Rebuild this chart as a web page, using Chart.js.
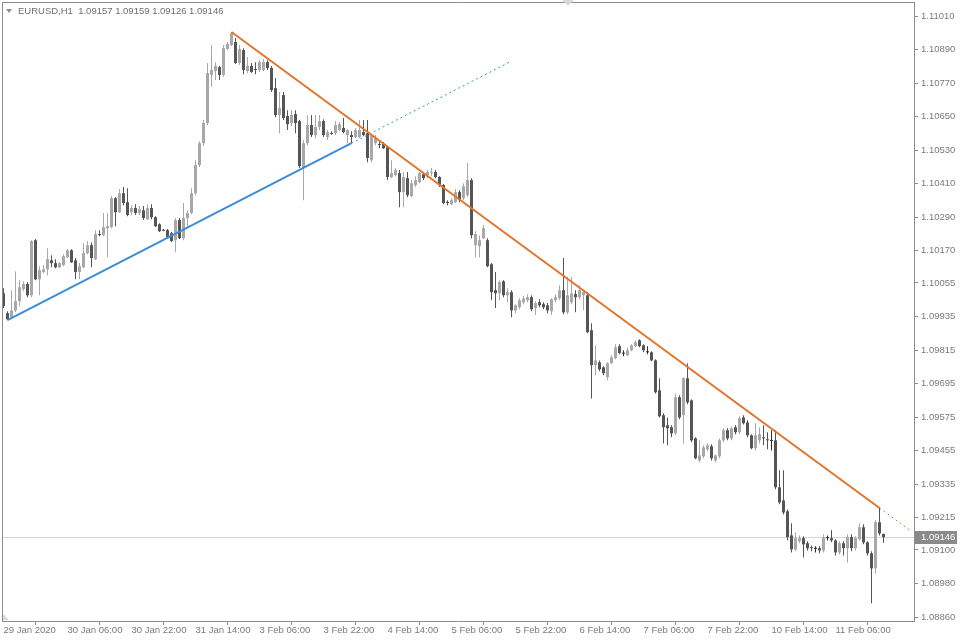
<!DOCTYPE html>
<html>
<head>
<meta charset="utf-8">
<title>EURUSD,H1</title>
<script src="https://cdn.jsdelivr.net/npm/chart.js@4.4.0/dist/chart.umd.min.js"></script>
<style>
    html, body { margin: 0; padding: 0; background: #ffffff; }
    #wrap { width: 960px; height: 640px; position: relative; }
</style>
</head>
<body>
<div id="wrap"><canvas id="chart" width="960" height="640"></canvas></div>
<script>
// header / last bar
var symbolTitle = "EURUSD,H1";
var lastBar = [1.09157, 1.09159, 1.09126, 1.09146];

// time axis: one candle per hour, a label every 16 candles
var timeTickIndex = [0, 16, 32, 48, 64, 80, 96, 112, 128, 144, 160, 176, 192, 208];
var timeLabels = ["29 Jan 2020", "30 Jan 06:00", "30 Jan 22:00", "31 Jan 14:00", "3 Feb 06:00", "3 Feb 22:00",
    "4 Feb 14:00", "5 Feb 06:00", "5 Feb 22:00", "6 Feb 14:00", "7 Feb 06:00", "7 Feb 22:00", "10 Feb 14:00", "11 Feb 06:00"];

// price axis labels
var priceTicks = [1.11010, 1.10890, 1.10770, 1.10650, 1.10530, 1.10410, 1.10290, 1.10170, 1.10055, 1.09935,
    1.09815, 1.09695, 1.09575, 1.09455, 1.09335, 1.09215, 1.09100, 1.08980, 1.08860];

// candles (H1)
var opens = [
    1.10018,1.09947,1.09932,1.09957,1.09990,1.10033,1.10051,1.10011,1.10208,1.10068,
    1.10094,1.10104,1.10136,1.10126,1.10111,1.10119,1.10147,1.10172,1.10136,1.10094,
    1.10111,1.10162,1.10190,1.10140,1.10230,1.10226,1.10251,1.10255,1.10358,1.10308,
    1.10376,1.10344,1.10308,1.10323,1.10305,1.10315,1.10283,1.10323,1.10290,1.10265,
    1.10244,1.10244,1.10233,1.10208,1.10280,1.10215,1.10287,1.10305,1.10376,1.10477,
    1.10555,1.10627,1.10799,1.10813,1.10827,1.10799,1.10892,1.10906,1.10917,1.10842,
    1.10888,1.10813,1.10831,1.10820,1.10817,1.10817,1.10845,1.10824,1.10752,1.10656,
    1.10727,1.10652,1.10627,1.10659,1.10634,1.10466,1.10555,1.10620,1.10584,1.10613,
    1.10634,1.10577,1.10591,1.10591,1.10602,1.10609,1.10584,1.10584,1.10577,1.10577,
    1.10595,1.10591,1.10494,1.10555,1.10552,1.10552,1.10541,1.10434,1.10441,1.10448,
    1.10380,1.10430,1.10366,1.10405,1.10416,1.10444,1.10441,1.10448,1.10452,1.10434,
    1.10405,1.10344,1.10337,1.10344,1.10380,1.10358,1.10369,1.10423,1.10190,1.10187,
    1.10215,1.10208,1.10122,1.10029,1.10018,1.10061,1.10011,1.10022,1.09957,1.09968,
    1.09986,1.09993,1.10004,1.09965,1.09986,1.09979,1.09975,1.09954,1.09993,1.10000,
    1.10029,1.09950,1.09986,1.10015,1.10004,1.10011,1.10011,1.09886,1.09761,1.09771,
    1.09753,1.09718,1.09768,1.09786,1.09829,1.09804,1.09796,1.09814,1.09829,1.09850,
    1.09832,1.09807,1.09807,1.09778,1.09671,1.09582,1.09546,1.09539,1.09517,1.09646,
    1.09582,1.09714,1.09635,1.09499,1.09420,1.09435,1.09460,1.09471,1.09420,1.09435,
    1.09492,1.09528,1.09499,1.09539,1.09521,1.09574,1.09556,1.09510,1.09464,1.09492,
    1.09501,1.09494,1.09492,1.09492,1.09324,1.09277,1.09238,1.09152,1.09102,1.09131,
    1.09142,1.09124,1.09108,1.09106,1.09106,1.09098,1.09142,1.09142,1.09134,1.09091,
    1.09124,1.09106,1.09146,1.09106,1.09138,1.09181,1.09127,1.09088,1.09034,1.09199,1.09157
];
var highs = [
    1.10036,1.09954,1.10029,1.10097,1.10065,1.10061,1.10058,1.10208,1.10212,1.10115,
    1.10119,1.10179,1.10154,1.10140,1.10129,1.10158,1.10176,1.10176,1.10144,1.10126,
    1.10197,1.10205,1.10201,1.10244,1.10244,1.10305,1.10305,1.10366,1.10362,1.10391,
    1.10398,1.10394,1.10333,1.10337,1.10330,1.10330,1.10337,1.10337,1.10294,1.10269,
    1.10248,1.10248,1.10237,1.10287,1.10287,1.10341,1.10315,1.10394,1.10494,1.10562,
    1.10638,1.10842,1.10906,1.10845,1.10831,1.10906,1.10917,1.10953,1.10931,1.10906,
    1.10895,1.10863,1.10842,1.10845,1.10852,1.10856,1.10852,1.10831,1.10788,1.10738,
    1.10738,1.10673,1.10673,1.10673,1.10638,1.10566,1.10656,1.10656,1.10656,1.10656,
    1.10641,1.10602,1.10598,1.10634,1.10630,1.10645,1.10605,1.10598,1.10609,1.10638,
    1.10638,1.10638,1.10584,1.10584,1.10566,1.10559,1.10545,1.10494,1.10466,1.10459,
    1.10452,1.10452,1.10423,1.10437,1.10452,1.10452,1.10459,1.10466,1.10459,1.10437,
    1.10409,1.10351,1.10358,1.10391,1.10387,1.10412,1.10484,1.10430,1.10240,1.10226,
    1.10262,1.10215,1.10126,1.10094,1.10065,1.10065,1.10036,1.10029,1.09979,1.10000,
    1.10008,1.10015,1.10011,1.09990,1.09997,1.09986,1.09983,1.10000,1.10015,1.10047,
    1.10144,1.10076,1.10076,1.10029,1.10047,1.10029,1.10022,1.09911,1.09832,1.09778,
    1.09757,1.09771,1.09796,1.09836,1.09836,1.09814,1.09825,1.09836,1.09850,1.09854,
    1.09836,1.09829,1.09811,1.09782,1.09714,1.09589,1.09574,1.09546,1.09660,1.09653,
    1.09718,1.09768,1.09639,1.09503,1.09492,1.09474,1.09481,1.09478,1.09442,1.09499,
    1.09535,1.09535,1.09542,1.09546,1.09578,1.09582,1.09564,1.09514,1.09553,1.09539,
    1.09546,1.09521,1.09528,1.09528,1.09385,1.09385,1.09245,1.09195,1.09163,1.09152,
    1.09149,1.09131,1.09116,1.09113,1.09113,1.09156,1.09152,1.09170,1.09138,1.09131,
    1.09131,1.09156,1.09156,1.09149,1.09195,1.09192,1.09131,1.09095,1.09206,1.09252,1.09159
];
var lows = [
    1.09965,1.09922,1.09929,1.09950,1.09972,1.10026,1.10004,1.10004,1.10065,1.10011,
    1.10090,1.10083,1.10111,1.10108,1.10108,1.10115,1.10144,1.10126,1.10068,1.10068,
    1.10108,1.10158,1.10111,1.10136,1.10222,1.10222,1.10147,1.10251,1.10258,1.10305,
    1.10333,1.10294,1.10298,1.10298,1.10298,1.10280,1.10280,1.10283,1.10255,1.10237,
    1.10240,1.10212,1.10201,1.10165,1.10212,1.10208,1.10251,1.10301,1.10369,1.10470,
    1.10545,1.10620,1.10756,1.10781,1.10781,1.10792,1.10888,1.10903,1.10838,1.10835,
    1.10802,1.10806,1.10806,1.10802,1.10810,1.10813,1.10817,1.10738,1.10648,1.10591,
    1.10638,1.10602,1.10616,1.10591,1.10466,1.10351,1.10548,1.10577,1.10573,1.10602,
    1.10577,1.10566,1.10584,1.10584,1.10598,1.10591,1.10555,1.10555,1.10573,1.10573,
    1.10580,1.10487,1.10487,1.10548,1.10537,1.10534,1.10423,1.10430,1.10437,1.10326,
    1.10326,1.10362,1.10362,1.10398,1.10412,1.10423,1.10430,1.10437,1.10430,1.10398,
    1.10337,1.10333,1.10333,1.10341,1.10344,1.10351,1.10362,1.10215,1.10147,1.10147,
    1.10212,1.10111,1.09993,1.09965,1.09993,1.10004,1.09986,1.09932,1.09947,1.09961,
    1.09979,1.09986,1.09954,1.09940,1.09968,1.09961,1.09947,1.09940,1.09986,1.09993,
    1.09943,1.09943,1.09979,1.09950,1.09997,1.09957,1.09875,1.09642,1.09725,1.09739,
    1.09725,1.09707,1.09764,1.09782,1.09800,1.09793,1.09793,1.09811,1.09825,1.09825,
    1.09807,1.09800,1.09775,1.09660,1.09574,1.09481,1.09474,1.09503,1.09510,1.09567,
    1.09481,1.09621,1.09485,1.09424,1.09413,1.09428,1.09453,1.09420,1.09413,1.09428,
    1.09485,1.09492,1.09492,1.09514,1.09514,1.09549,1.09503,1.09460,1.09456,1.09481,
    1.09474,1.09460,1.09456,1.09317,1.09263,1.09227,1.09135,1.09091,1.09095,1.09124,
    1.09073,1.09098,1.09095,1.09091,1.09088,1.09091,1.09134,1.09127,1.09080,1.09084,
    1.09080,1.09055,1.09095,1.09098,1.09134,1.09120,1.09080,1.08909,1.09016,1.09152,1.09126
];
var closes = [
    1.09972,1.09925,1.09957,1.09990,1.10040,1.10051,1.10011,1.10205,1.10068,1.10101,
    1.10104,1.10140,1.10126,1.10111,1.10126,1.10151,1.10172,1.10129,1.10094,1.10115,
    1.10162,1.10190,1.10144,1.10230,1.10226,1.10255,1.10258,1.10358,1.10308,1.10376,
    1.10341,1.10298,1.10323,1.10305,1.10319,1.10287,1.10323,1.10290,1.10258,1.10240,
    1.10242,1.10219,1.10205,1.10280,1.10215,1.10287,1.10305,1.10376,1.10477,1.10555,
    1.10627,1.10806,1.10817,1.10831,1.10799,1.10895,1.10910,1.10949,1.10842,1.10892,
    1.10817,1.10831,1.10810,1.10817,1.10845,1.10845,1.10824,1.10745,1.10656,1.10681,
    1.10645,1.10623,1.10656,1.10627,1.10473,1.10555,1.10620,1.10584,1.10613,1.10634,
    1.10584,1.10595,1.10588,1.10620,1.10623,1.10595,1.10602,1.10577,1.10602,1.10602,
    1.10584,1.10502,1.10584,1.10573,1.10548,1.10537,1.10434,1.10448,1.10459,1.10380,
    1.10434,1.10369,1.10412,1.10423,1.10448,1.10430,1.10452,1.10450,1.10434,1.10405,
    1.10341,1.10341,1.10351,1.10380,1.10351,1.10401,1.10423,1.10226,1.10230,1.10208,
    1.10251,1.10115,1.10022,1.10018,1.10058,1.10011,1.10022,1.09957,1.09975,1.09993,
    1.10000,1.10004,1.09961,1.09983,1.09975,1.09968,1.09957,1.09997,1.10004,1.10029,
    1.09950,1.10011,1.10018,1.10004,1.10029,1.10022,1.09879,1.09761,1.09778,1.09746,
    1.09732,1.09768,1.09789,1.09825,1.09804,1.09802,1.09814,1.09832,1.09843,1.09829,
    1.09814,1.09809,1.09778,1.09664,1.09578,1.09539,1.09535,1.09517,1.09646,1.09574,
    1.09714,1.09628,1.09492,1.09428,1.09438,1.09467,1.09474,1.09428,1.09438,1.09492,
    1.09528,1.09499,1.09535,1.09521,1.09571,1.09553,1.09510,1.09464,1.09510,1.09514,
    1.09499,1.09492,1.09490,1.09324,1.09270,1.09234,1.09146,1.09102,1.09142,1.09142,
    1.09120,1.09106,1.09106,1.09104,1.09098,1.09146,1.09144,1.09134,1.09091,1.09124,
    1.09106,1.09146,1.09106,1.09142,1.09181,1.09127,1.09088,1.09034,1.09199,1.09159,1.09146
];

// trend lines (bar index, price): solid part then dotted ray
var blueX = [1, 87, 126.5];
var blueY = [1.09922, 1.10555, 1.10845];
var orangeX = [57, 219, 227];
var orangeY = [1.10953, 1.09250, 1.09166];

var fontFamily = '"Liberation Sans", Arial, sans-serif';
var axisColor = "#8c8c8c";
var textColor = "#7a7a7a";
var bullColor = "#a8a8a8";
var bearColor = "#555555";
var dojiColor = "#303030";

function candleColor(i) {
    if (Math.abs(closes[i] - opens[i]) < 0.00002) return dojiColor;
    return closes[i] > opens[i] ? bullColor : bearColor;
}

var bodyData = [];
var wickData = [];
for (var i = 0; i < opens.length; i++) {
    bodyData.push({ x: i, y: [opens[i], closes[i]] });
    wickData.push({ x: i, y: [lows[i], highs[i]] });
}

function segment(xs, ys, a, b) {
    return [{ x: xs[a], y: ys[a] }, { x: xs[b], y: ys[b] }];
}

// no extra padding for the first/last tick labels, the frame sits at fixed pixels
function noLabelPadding(scale) {
    scale.paddingTop = 0;
    scale.paddingBottom = 0;
    scale.paddingLeft = 0;
    scale.paddingRight = 0;
}

var mt4Decor = {
    id: "mt4Decor",
    beforeDatasetsDraw: function (chart) {
        var ctx = chart.ctx, area = chart.chartArea;
        var py = Math.round(chart.scales.y.getPixelForValue(lastBar[3])) + 0.5;
        ctx.save();
        ctx.strokeStyle = "#d6d6d6";
        ctx.lineWidth = 1;
        ctx.beginPath();
        ctx.moveTo(area.left, py);
        ctx.lineTo(area.right, py);
        ctx.stroke();
        ctx.restore();
    },
    afterDraw: function (chart) {
        var ctx = chart.ctx, area = chart.chartArea;
        ctx.save();
        // frame (top + left, the axes draw right + bottom)
        ctx.strokeStyle = axisColor;
        ctx.lineWidth = 1;
        ctx.beginPath();
        ctx.moveTo(area.left + 0.5, area.bottom);
        ctx.lineTo(area.left + 0.5, area.top + 0.5);
        ctx.lineTo(area.right, area.top + 0.5);
        ctx.stroke();

        // header
        ctx.fillStyle = "#8c8c8c";
        ctx.beginPath();
        ctx.moveTo(6, 9);
        ctx.lineTo(12, 9);
        ctx.lineTo(9, 13);
        ctx.closePath();
        ctx.fill();
        ctx.fillStyle = "#6e6e6e";
        ctx.font = "9.5px " + fontFamily;
        ctx.textBaseline = "middle";
        ctx.textAlign = "left";
        ctx.fillText(symbolTitle + "  " + lastBar.map(function (v) { return v.toFixed(5); }).join(" "), 18, 11.5);

        // shift marker top, corner marker bottom-left
        ctx.fillStyle = "#d9d9d9";
        ctx.beginPath();
        ctx.moveTo(562, 0);
        ctx.lineTo(574, 0);
        ctx.lineTo(568, 6);
        ctx.closePath();
        ctx.fill();
        ctx.beginPath();
        ctx.moveTo(area.left + 1, area.bottom - 7);
        ctx.lineTo(area.left + 7, area.bottom - 1);
        ctx.lineTo(area.left + 1, area.bottom - 1);
        ctx.closePath();
        ctx.fill();

        // bid label on the price axis
        var py = Math.round(chart.scales.y.getPixelForValue(lastBar[3]));
        ctx.fillStyle = "#8a8a8a";
        ctx.fillRect(area.right + 1, py - 6, 42, 13);
        ctx.fillStyle = "#ffffff";
        ctx.fillText(lastBar[3].toFixed(5), area.right + 7, py + 0.5);
        ctx.restore();
    }
};

var ctx = document.getElementById("chart").getContext("2d");
var chart = new Chart(ctx, {
    type: "bar",
    data: {
        datasets: [
            {
                type: "line",
                data: segment(orangeX, orangeY, 0, 1),
                borderColor: "#e2742c",
                borderWidth: 2,
                pointRadius: 0,
                order: 0,
            },
            {
                type: "line",
                data: segment(orangeX, orangeY, 1, 2),
                borderColor: "#e2742c",
                borderWidth: 1,
                borderDash: [2, 3],
                pointRadius: 0,
                order: 0,
            },
            {
                type: "line",
                data: segment(blueX, blueY, 0, 1),
                borderColor: "#3a8dd6",
                borderWidth: 2,
                pointRadius: 0,
                order: 0,
            },
            {
                type: "line",
                data: segment(blueX, blueY, 1, 2),
                borderColor: "#3a8dd6",
                borderWidth: 1,
                borderDash: [2, 3],
                pointRadius: 0,
                order: 0,
            },
            {
                label: "body",
                data: bodyData,
                backgroundColor: function (c) { return candleColor(c.dataIndex); },
                barThickness: 3,
                minBarLength: 1,
                grouped: false,
                inflateAmount: 0,
                borderWidth: 0,
                order: 1,
            },
            {
                label: "wick",
                data: wickData,
                backgroundColor: function (c) { return candleColor(c.dataIndex); },
                barThickness: 1,
                minBarLength: 1,
                grouped: false,
                inflateAmount: 0,
                borderWidth: 0,
                order: 2,
            },
        ],
    },
    options: {
        responsive: false,
        animation: false,
        devicePixelRatio: 1,
        layout: { padding: { top: 2, left: 2, right: 0, bottom: 0 } },
        plugins: { legend: { display: false }, tooltip: { enabled: false } },
        scales: {
            x: {
                type: "linear",
                min: -0.375,
                max: 227.625,
                offset: false,
                afterBuildTicks: function (scale) {
                    scale.ticks = timeTickIndex.map(function (v) { return { value: v }; });
                },
                afterFit: function (scale) { scale.height = 19; noLabelPadding(scale); },
                grid: { drawOnChartArea: false, drawTicks: true, tickLength: 4, color: axisColor },
                border: { display: true, color: axisColor },
                ticks: {
                    autoSkip: false,
                    maxRotation: 0,
                    align: "start",
                    padding: 0,
                    color: textColor,
                    font: { family: fontFamily, size: 9.5 },
                    callback: function (v, idx) { return timeLabels[idx]; },
                },
            },
            y: {
                type: "linear",
                position: "right",
                min: 1.088457,
                max: 1.110601,
                afterBuildTicks: function (scale) {
                    scale.ticks = priceTicks.map(function (v) { return { value: v }; });
                },
                afterFit: function (scale) { scale.width = 46; noLabelPadding(scale); },
                grid: { drawOnChartArea: false, drawTicks: true, tickLength: 4, color: axisColor },
                border: { display: true, color: axisColor },
                ticks: {
                    autoSkip: false,
                    padding: 3,
                    color: textColor,
                    font: { family: fontFamily, size: 9.5 },
                    callback: function (v, idx) { return priceTicks[idx].toFixed(5); },
                },
            },
        },
    },
    plugins: [mt4Decor],
});
</script>
</body>
</html>
